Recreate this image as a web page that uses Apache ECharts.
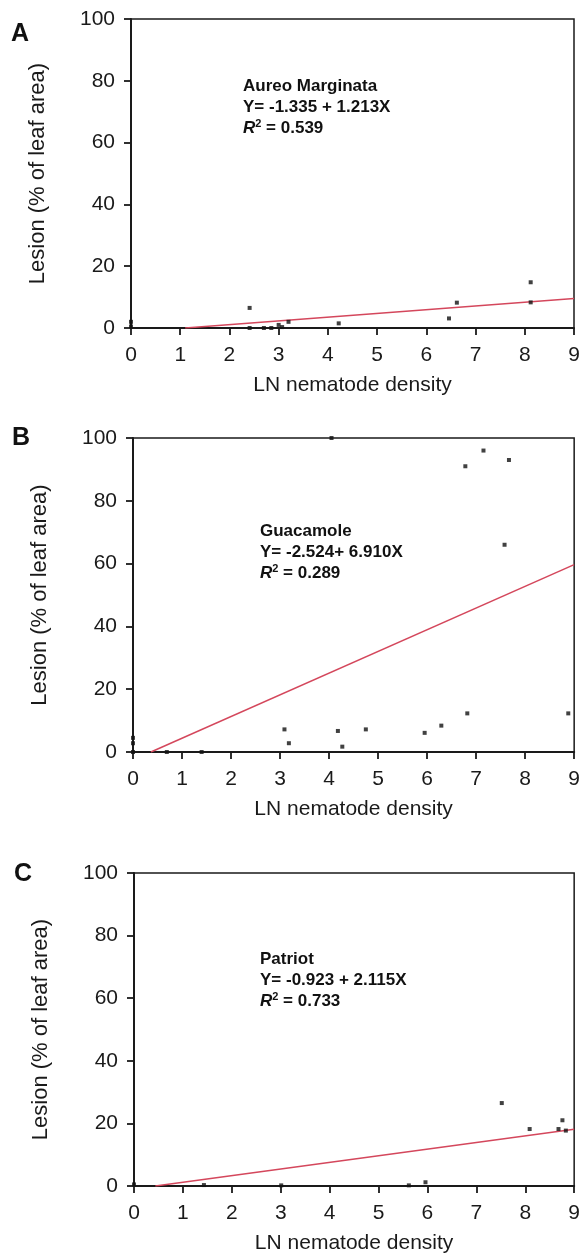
<!DOCTYPE html>
<html><head><meta charset="utf-8">
<script src="https://cdn.jsdelivr.net/npm/echarts@6/dist/echarts.min.js"></script>
<style>html,body{margin:0;padding:0;background:#fff}#c{width:583px;height:1258px}</style>
</head><body><div id="c"></div>
<script>
// Panel data (LN nematode density vs lesion %)
var aX = [0, 0, 2.41, 2.41, 2.7, 2.85, 3.0, 3.07, 3.2, 4.22, 6.46, 6.62, 8.12, 8.12];
var aY = [2.0, 0.5, 6.5, 0, 0, 0, 1.0, 0.3, 2.0, 1.5, 3.1, 8.2, 8.3, 14.8];
var bX = [0, 0, 0, 0.69, 1.4, 3.09, 3.18, 4.05, 4.18, 4.27, 4.75, 5.95, 6.29, 6.78, 6.82, 7.15, 7.58, 7.67, 8.88];
var bY = [0, 2.8, 4.5, 0, 0, 7.2, 2.8, 100, 6.7, 1.7, 7.2, 6.1, 8.4, 91, 12.3, 96, 66, 93, 12.3];
var cX = [0, 1.43, 3.01, 5.62, 5.96, 7.52, 8.09, 8.68, 8.76, 8.83];
var cY = [0.5, 0.3, 0.2, 0.2, 1.2, 26.5, 18.2, 18.2, 21.0, 17.7];
var panelLetters = ['A', 'B', 'C'];
var cultivars = ['Aureo Marginata', 'Guacamole', 'Patriot'];
var eqTexts = ['Y= -1.335 + 1.213X', 'Y= -2.524+ 6.910X', 'Y= -0.923 + 2.115X'];
var r2Texts = ['0.539', '0.289', '0.733'];
var intercepts = [-1.335, -2.524, -0.923];
var slopes = [1.213, 6.910, 2.115];
var xTicks = [0, 1, 2, 3, 4, 5, 6, 7, 8, 9];
var yTicks = [0, 20, 40, 60, 80, 100];
var xName = 'LN nematode density';
var yName = 'Lesion (% of leaf area)';

var xs = [aX, bX, cX], ys = [aY, bY, cY];
var grids = [
  {left: 131, top: 19, width: 443, height: 309},
  {left: 133, top: 438, width: 442, height: 314},
  {left: 134, top: 873, width: 441, height: 313}
];
var letterPos = [[11, 22], [12, 426], [14, 862]];
var textPos = [[243, 78], [260, 523], [260, 951]];

var font = 'Liberation Sans, Arial, sans-serif';
var option = {animation: false, backgroundColor: '#fff', grid: [], xAxis: [], yAxis: [], series: [], graphic: []};
for (var i = 0; i < 3; i++) {
  var g = grids[i];
  option.grid.push({left: g.left, top: g.top, width: g.width, height: g.height, show: true, borderColor: '#1a1a1a', borderWidth: 1.5, backgroundColor: 'transparent'});
  option.xAxis.push({
    type: 'value', gridIndex: i, min: xTicks[0], max: xTicks[xTicks.length - 1], interval: 1,
    name: xName, nameLocation: 'middle', nameGap: 47,
    nameTextStyle: {fontFamily: font, fontSize: 21, color: '#1a1a1a'},
    axisLine: {onZero: false, lineStyle: {color: '#1a1a1a', width: 2}},
    axisTick: {length: 7, lineStyle: {color: '#1a1a1a', width: 1.8}},
    axisLabel: {fontFamily: font, fontSize: 21, color: '#1a1a1a', margin: 17},
    splitLine: {show: false}
  });
  option.yAxis.push({
    type: 'value', gridIndex: i, min: yTicks[0], max: yTicks[yTicks.length - 1], interval: 20,
    name: yName, nameLocation: 'middle', nameGap: 82, nameRotate: 90,
    nameTextStyle: {fontFamily: font, fontSize: 22, color: '#1a1a1a'},
    axisLine: {onZero: false, lineStyle: {color: '#1a1a1a', width: 2}},
    axisTick: {length: 7, lineStyle: {color: '#1a1a1a', width: 1.8}},
    axisLabel: {fontFamily: font, fontSize: 21, color: '#1a1a1a', margin: 16},
    splitLine: {show: false}
  });
  var pts = xs[i].map(function (x, k) { return [x, ys[i][k]]; });
  option.series.push({
    type: 'scatter', xAxisIndex: i, yAxisIndex: i, data: pts,
    symbol: 'rect', symbolSize: 4, itemStyle: {color: '#111'}, clip: false, z: 5
  });
  var x0 = -intercepts[i] / slopes[i], x1 = xTicks[xTicks.length - 1];
  option.series.push({
    type: 'line', xAxisIndex: i, yAxisIndex: i,
    data: [[x0, intercepts[i] + slopes[i] * x0], [x1, intercepts[i] + slopes[i] * x1]],
    symbol: 'none', lineStyle: {color: '#d4475c', width: 1.5}, z: 4
  });
  option.graphic.push({
    type: 'text', left: letterPos[i][0], top: letterPos[i][1],
    style: {text: panelLetters[i], font: 'bold 25px ' + font, fill: '#111'}
  });
  option.graphic.push({
    type: 'text', left: textPos[i][0], top: textPos[i][1],
    style: {
      text: '{b|' + cultivars[i] + '}\n{b|' + eqTexts[i] + '}\n{i|R}{s|2}{b| = ' + r2Texts[i] + '}',
      rich: {
        b: {font: 'bold 17px ' + font, fill: '#111', lineHeight: 21},
        i: {font: 'italic bold 17px ' + font, fill: '#111', lineHeight: 21},
        s: {font: 'bold 11px ' + font, fill: '#111', lineHeight: 21, verticalAlign: 'top', padding: [0, 0, 6, 0]}
      }
    }
  });
}
var chart = echarts.init(document.getElementById('c'), null, {renderer: 'canvas'});
chart.setOption(option);
</script>
</body></html>
